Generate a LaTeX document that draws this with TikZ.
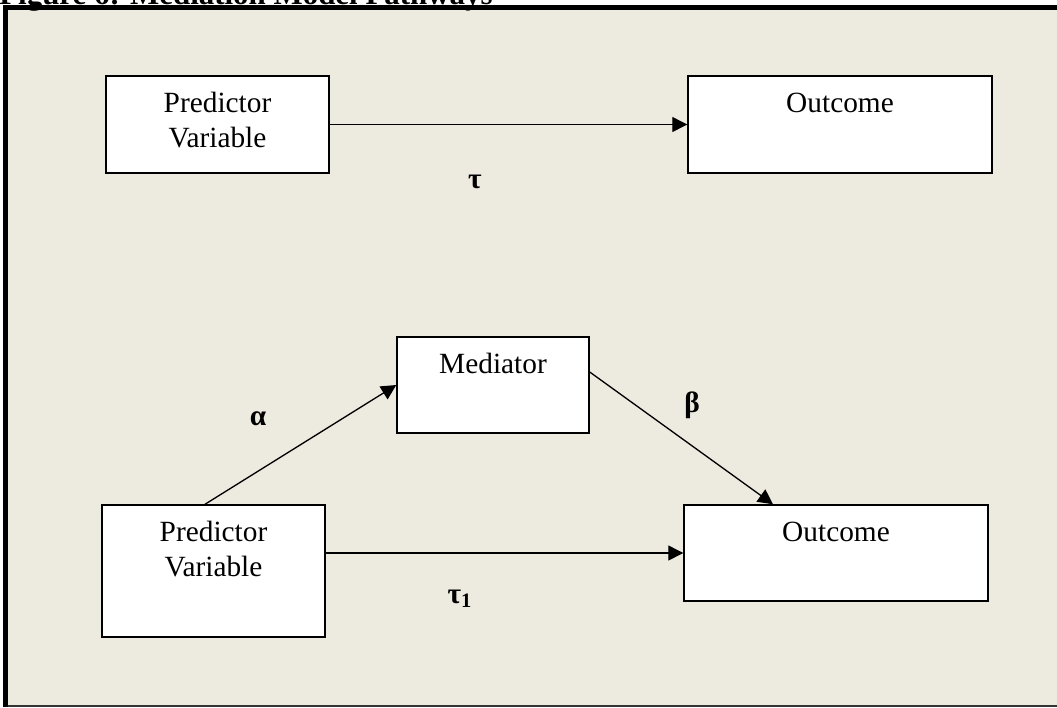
\documentclass[tikz,border=0pt]{standalone}
\usepackage{fontspec}
\setmainfont{Liberation Serif}
\usetikzlibrary{arrows.meta}
\definecolor{panelbg}{RGB}{237,234,224}
\newcommand{\boxfont}{\fontsize{16.7}{19.4}\selectfont}
\newcommand{\coeffont}{\fontsize{16.7}{19.4}\selectfont\bfseries}
\tikzset{
  varbox/.style={draw, fill=white, line width=0.85pt, inner sep=0pt},
  boxtext/.style={anchor=north, inner sep=0pt, align=center, font=\boxfont},
  coef/.style={anchor=base, inner sep=0pt, font=\coeffont},
  effect/.style={line width=0.75pt, -{Triangle[length=0.3cm, width=0.3cm]}}
}

\begin{document}
\begin{tikzpicture}[x=0.02cm, y=-0.02cm]
  \clip (0,0) rectangle (1057,707);
  \fill[panelbg] (8,9) rectangle (1057,706);
  \node[anchor=base west, inner sep=0pt, font=\fontsize{17.6}{20}\selectfont\bfseries] (title) at (-1,4) {Figure 6: Mediation Model Pathways};
  \draw[line width=0.095cm] (3,7.2) -- (1057,7.2);
  \draw[line width=0.11cm] (5.7,5) -- (5.7,707);
  \draw[line width=0.6pt, black!80] (8,706) -- (1057,706);

  % total effect
  \node[varbox, minimum width=4.46cm, minimum height=1.94cm] (pred1) at (217.5,124.5) {};
  \node[boxtext] (pred1txt) at ([yshift=-0.34cm]pred1.north) {Predictor\\Variable};
  \node[varbox, minimum width=6.08cm, minimum height=1.94cm] (out1) at (840,124.5) {};
  \node[boxtext] (out1txt) at ([yshift=-0.34cm]out1.north) {Outcome};
  \draw[effect] (pred1.east) -- (out1.west);
  \node[coef] (tau) at (475,188) {τ};

  % mediated effect
  \node[varbox, minimum width=3.84cm, minimum height=1.92cm] (med) at (493,385) {};
  \node[boxtext] (medtxt) at ([yshift=-0.34cm]med.north) {Mediator};
  \node[varbox, minimum width=4.46cm, minimum height=2.64cm] (pred2) at (213.5,571) {};
  \node[boxtext] (pred2txt) at ([yshift=-0.34cm]pred2.north) {Predictor\\Variable};
  \node[varbox, minimum width=6.08cm, minimum height=1.92cm] (out2) at (836,553) {};
  \node[boxtext] (out2txt) at ([yshift=-0.34cm]out2.north) {Outcome};
  \draw[effect] ([xshift=-0.17cm]pred2.north) -- (med.west);
  \draw[effect] ([yshift=0.26cm]med.east) -- ([xshift=-1.26cm]out2.north);
  \draw[effect] (pred2.east |- out2.west) -- (out2.west);
  \node[coef] (alpha) at (258,425) {α};
  \node[coef] (beta) at (692,412) {β};
  \node[coef] (tau1) at (460,603) {τ\textsubscript{1}};
\end{tikzpicture}
\end{document}
